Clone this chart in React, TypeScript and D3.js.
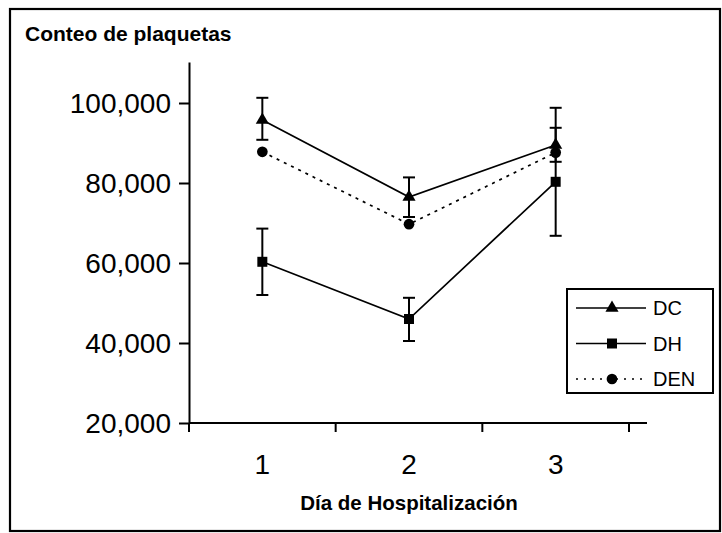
import { useEffect, useRef } from "react";
import * as d3 from "d3";

// días de hospitalización
const days = ["1", "2", "3"];
const yTicks = [20000, 40000, 60000, 80000, 100000];

// medias por grupo
const dcValues = [95750, 76500, 89500];
const dhValues = [60300, 46000, 80300];
const denValues = [87800, 69700, 87600];

// barras de error (límite superior / inferior)
const dcUpper = [101300, 81400, 93800];
const dcLower = [90800, 71500, 85300];
const dhUpper = [68600, 51300, 98800];
const dhLower = [52000, 40500, 66800];

const legendNames = ["DC", "DH", "DEN"];

export default function App() {
   const ref = useRef<SVGSVGElement>(null);

   useEffect(() => {
      const width = 722;
      const height = 533;
      const font = "'Liberation Sans', Arial, sans-serif";

      const svg = d3.select(ref.current);
      svg.selectAll("*").remove();
      svg.attr("width", width).attr("height", height);

      // marco exterior
      svg.append("rect")
         .attr("x", 10)
         .attr("y", 9)
         .attr("width", 710)
         .attr("height", 522)
         .attr("fill", "white")
         .attr("stroke", "black")
         .attr("stroke-width", 2.2);

      const x = d3.scaleBand().domain(days).range([189, 629]).padding(0);
      const y = d3.scaleLinear().domain([20000, 110250]).range([423, 62]);
      const cx = (d: string) => (x(d) as number) + x.bandwidth() / 2;

      // eje Y
      const yAxis = d3
         .axisLeft(y)
         .tickValues(yTicks)
         .tickFormat(d3.format(",") as any)
         .tickSize(10)
         .tickSizeOuter(0)
         .tickPadding(8);
      const gy = svg.append("g").attr("transform", "translate(189,0)").call(yAxis);
      gy.select(".domain").attr("stroke-width", 2);
      gy.selectAll(".tick line").attr("stroke-width", 2);
      gy.selectAll(".tick text")
         .attr("font-family", font)
         .attr("font-size", 28)
         .attr("fill", "black")
         .attr("dy", "0.34em");

      // eje X
      svg.append("line")
         .attr("x1", 189)
         .attr("x2", 647)
         .attr("y1", 423)
         .attr("y2", 423)
         .attr("stroke", "black")
         .attr("stroke-width", 2);
      const bounds = days.map((d) => x(d) as number).concat([x.range()[1]]);
      svg.selectAll(".xtick")
         .data(bounds)
         .join("line")
         .attr("x1", (d) => d)
         .attr("x2", (d) => d)
         .attr("y1", 423)
         .attr("y2", 432)
         .attr("stroke", "black")
         .attr("stroke-width", 2);
      svg.selectAll(".xlabel")
         .data(days)
         .join("text")
         .attr("x", (d) => cx(d))
         .attr("y", 474)
         .attr("text-anchor", "middle")
         .attr("font-family", font)
         .attr("font-size", 28)
         .text((d) => d);

      // títulos
      svg.append("text")
         .attr("x", 25)
         .attr("y", 41)
         .attr("font-family", font)
         .attr("font-weight", "bold")
         .attr("font-size", 21)
         .text("Conteo de plaquetas");
      svg.append("text")
         .attr("x", 409)
         .attr("y", 510)
         .attr("text-anchor", "middle")
         .attr("font-family", font)
         .attr("font-weight", "bold")
         .attr("font-size", 20.5)
         .text("Día de Hospitalización");

      // barras de error
      const errorBars = (upper: number[], lower: number[]) => {
         days.forEach((d, i) => {
            const g = svg.append("g").attr("stroke", "black").attr("stroke-width", 2);
            g.append("line")
               .attr("x1", cx(d))
               .attr("x2", cx(d))
               .attr("y1", y(upper[i]))
               .attr("y2", y(lower[i]));
            [upper[i], lower[i]].forEach((v) => {
               g.append("line")
                  .attr("x1", cx(d) - 6)
                  .attr("x2", cx(d) + 6)
                  .attr("y1", y(v))
                  .attr("y2", y(v));
            });
         });
      };
      errorBars(dhUpper, dhLower);
      errorBars(dcUpper, dcLower);

      const line = d3
         .line<number>()
         .x((_, i) => cx(days[i]))
         .y((v) => y(v));

      const series = [
         { values: dcValues, dash: null, symbol: d3.symbolTriangle, size: 75 },
         { values: dhValues, dash: null, symbol: d3.symbolSquare, size: 100 },
         { values: denValues, dash: "3,5", symbol: d3.symbolCircle, size: 90 },
      ];

      series.forEach((s) => {
         svg.append("path")
            .attr("d", line(s.values))
            .attr("fill", "none")
            .attr("stroke", "black")
            .attr("stroke-width", 1.7)
            .attr("stroke-dasharray", s.dash);
         s.values.forEach((v, i) => {
            svg.append("path")
               .attr("d", d3.symbol().type(s.symbol).size(s.size)())
               .attr("transform", `translate(${cx(days[i])},${y(v)})`)
               .attr("fill", "black");
         });
      });

      // leyenda
      const lg = svg.append("g").attr("transform", "translate(567,289)");
      lg.append("rect")
         .attr("width", 146)
         .attr("height", 104)
         .attr("fill", "white")
         .attr("stroke", "black")
         .attr("stroke-width", 2);
      series.forEach((s, i) => {
         const ly = 19 + i * 35.5;
         lg.append("line")
            .attr("x1", 9)
            .attr("x2", 79)
            .attr("y1", ly)
            .attr("y2", ly)
            .attr("stroke", "black")
            .attr("stroke-width", 1.7)
            .attr("stroke-dasharray", s.dash ? "2,6" : null);
         lg.append("path")
            .attr("d", d3.symbol().type(s.symbol).size(s.size)())
            .attr("transform", `translate(45,${ly})`)
            .attr("fill", "black");
         lg.append("text")
            .attr("x", 86)
            .attr("y", ly + 7)
            .attr("font-family", font)
            .attr("font-size", 20)
            .text(legendNames[i]);
      });
   }, []);

   return (
      <svg
         ref={ref}
         style={{ position: "absolute", left: 0, top: 0, display: "block", background: "white" }}
      ></svg>
   );
}
